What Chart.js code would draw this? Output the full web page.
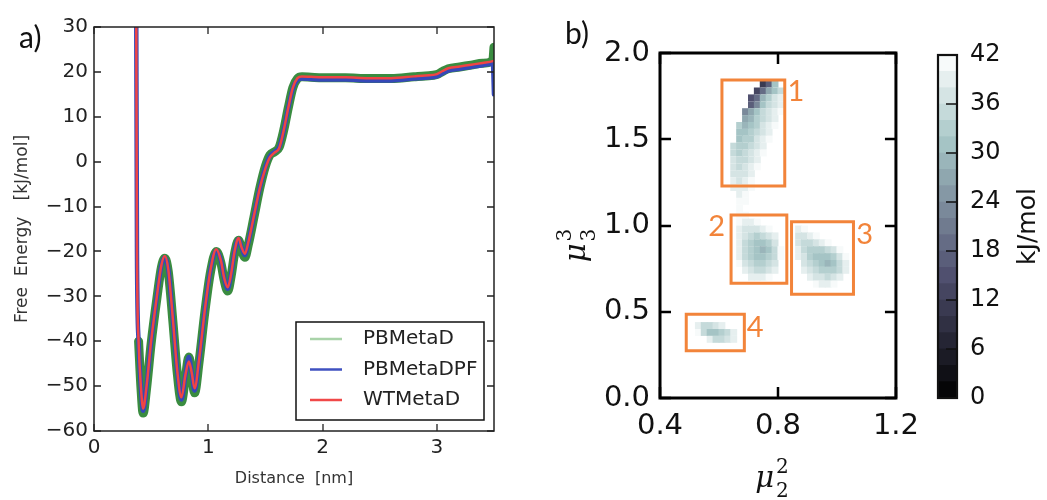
<!DOCTYPE html>
<html>
<head>
<meta charset="utf-8">
<script src="https://cdn.jsdelivr.net/npm/chart.js@4.4.1/dist/chart.umd.min.js"></script>
<style>
  body { margin: 0; background: #fff; }
  #fig { position: relative; width: 1047px; height: 500px; overflow: hidden; }
  canvas { position: absolute; top: 0; }
  .tag { position: absolute; font: 30px Lato, sans-serif; line-height: 1; color: #111; }
</style>
</head>
<body>
<div id="fig">
  <canvas id="profile" width="540" height="500" style="left:0"></canvas>
  <canvas id="fes" width="390" height="500" style="left:540px"></canvas>
  <canvas id="cbar" width="117" height="500" style="left:930px"></canvas>
  <div class="tag" style="left:19px;top:21px">a)</div>
  <div class="tag" style="left:565px;top:17px">b)</div>
</div>
<script>
// ---- panel a: free energy profile along the distance ----
const distance = [0.369, 0.376, 0.39, 0.41, 0.43, 0.46, 0.50, 0.55, 0.59, 0.62,
  0.65, 0.69, 0.73, 0.765, 0.80, 0.83, 0.855, 0.88, 0.92, 0.97,
  1.02, 1.07, 1.11, 1.14, 1.17, 1.20, 1.23, 1.265, 1.29, 1.32,
  1.35, 1.40, 1.45, 1.50, 1.54, 1.58, 1.62, 1.66, 1.70, 1.74,
  1.78, 1.82, 1.90, 2.00, 2.20, 2.40, 2.60, 2.80, 2.90, 3.00,
  3.05, 3.10, 3.20, 3.30, 3.40, 3.49, 3.50];

const pbMetaD = [null, null, -40, -50, -56, -50.5, -40.5, -30.5, -23.5, -21.5,
  -24.5, -35.5, -47.5, -53.5, -48, -43.5, -47.5, -51.5, -44.5, -33.5,
  -24.5, -20, -22.5, -26.5, -28.8, -25.5, -20.5, -17.5, -19.5, -21.3,
  -18.5, -12.3, -6, -1, 1.5, 2.2, 3.2, 7, 12, 16.5,
  18.5, 18.9, 18.8, 18.7, 18.7, 18.5, 18.5, 18.9, 19.1, 19.4,
  20.1, 20.7, 21.1, 21.5, 21.9, 22.6, 25.5];

const pbMetaDPF = [40, -20, -40, -50, -55.5, -50, -40, -30, -23, -21.3,
  -24, -35, -47, -53, -47.5, -43.5, -47, -51, -44, -33,
  -24, -19.8, -22, -26, -28.3, -25, -20, -17.2, -19, -20.8,
  -18, -12, -6, -1.2, 1.3, 2.2, 3.2, 7, 12, 16.3,
  18.2, 18.5, 18.4, 18.3, 18.3, 18.1, 18.1, 18.5, 18.7, 19.0,
  19.7, 20.3, 20.7, 21.1, 21.5, 21.8, 15];

const wtMetaD = [40, -20, -40, -50, -55, -50, -40, -30, -23, -21,
  -24, -35, -47, -52.5, -47.5, -44.5, -47, -50.5, -44, -33,
  -24, -19.5, -22, -26, -28, -25, -20, -17, -19, -20.5,
  -18, -12, -6, -1.5, 1, 2, 3, 7, 12, 16.5,
  18.6, 19, 18.9, 18.8, 18.8, 18.6, 18.6, 19.0, 19.2, 19.5,
  20.2, 20.8, 21.2, 21.6, 22.0, 22.4, 22.5];

const distanceTicks = [0, 1, 2, 3];
const energyTicks = [-60, -50, -40, -30, -20, -10, 0, 10, 20, 30];

// ---- panel b: free energy surface in (mu2^2, mu3^3) ----
// one string per row of cells, top row first; each char is a 2 kJ/mol level, '.' = no sample
const levelCodes = '0123456789abcdefghijk';
const mu2First = 0.51, mu2Step = 0.02;
const mu3Top = 1.82, mu3Step = 0.04;
const energyRows = [
  '............58f.............',
  '...........69dfh............',
  '..........79egij............',
  '..........8bfhij............',
  '.........bdfhijk............',
  '.........deghij.............',
  '........gefgijk.............',
  '........ffghij..............',
  '........fggijk..............',
  '.......hgghij...............',
  '.......hghijk...............',
  '.......ihhij................',
  '.......ihijk................',
  '.......iiij.................',
  '.......jijk.................',
  '.......jjjk.................',
  '........jk..................',
  '........kk..................',
  '........k...................',
  '........kk..................',
  '........kjjk................',
  '........jiiijk....jk........',
  '........jihghij...iijk......',
  '........jhgffgi...ihhijk....',
  '........jhgfefhk..jhggghik..',
  '........jhgffghk..jigfffgik.',
  '........kihgghi....ihgfefhj.',
  '.........jihhij....jihggghj.',
  '..........jjjk......jiihij..',
  '.....................kjjk...',
  '............................',
  '............................',
  '............................',
  '............................',
  '............................',
  '.jhhij......................',
  '.khffghj....................',
  '...jhhij....................',
  '............................'
];
const mu2Ticks = [0.4, 0.8, 1.2];
const mu3Ticks = [0, 0.5, 1.0, 1.5, 2.0];

// basins: [mu2 min, mu2 max, mu3 min, mu3 max]
const basinBoxes = [
  [0.610, 0.823, 1.229, 1.843],
  [0.641, 0.830, 0.665, 1.061],
  [0.846, 1.056, 0.601, 1.022],
  [0.489, 0.686, 0.274, 0.485]
];
const basinNames = ['1', '2', '3', '4'];
const basinNameAt = [[0.861, 1.776], [0.592, 0.993], [1.094, 0.945], [0.723, 0.409]];

const cbarTicks = [0, 6, 12, 18, 24, 30, 36, 42];
const cbarMax = 42;

Chart.defaults.font.family = '"DejaVu Sans", sans-serif';

// matplotlib "bone" colormap
function bone(t) {
  const seg = pts => {
    for (let k = 1; k < pts.length; k++) {
      if (t <= pts[k][0]) {
        const [x0, y0] = pts[k - 1], [x1, y1] = pts[k];
        return y0 + (y1 - y0) * (t - x0) / (x1 - x0);
      }
    }
    return 1;
  };
  const r = seg([[0, 0], [0.746032, 0.652778], [1, 1]]);
  const g = seg([[0, 0], [0.365079, 0.319444], [0.746032, 0.777778], [1, 1]]);
  const b = seg([[0, 0], [0.365079, 0.444444], [1, 1]]);
  return `rgb(${Math.round(r * 255)},${Math.round(g * 255)},${Math.round(b * 255)})`;
}

const minus = v => (v < 0 ? '\u2212' + Math.abs(v) : String(v));
const setTicks = list => scale => { scale.ticks = list.map(v => ({ value: v })); };

// closed frame with inward ticks on all four sides
const frameTicks = {
  id: 'frameTicks',
  afterDraw(chart, args, o) {
    const { ctx, chartArea: a, scales: { x, y } } = chart;
    ctx.save();
    ctx.strokeStyle = o.color;
    ctx.lineWidth = o.tickWidth;
    ctx.beginPath();
    x.ticks.forEach(t => {
      const p = Math.round(x.getPixelForValue(t.value));
      ctx.moveTo(p, a.bottom); ctx.lineTo(p, a.bottom - o.len);
      ctx.moveTo(p, a.top); ctx.lineTo(p, a.top + o.len);
    });
    y.ticks.forEach(t => {
      const p = Math.round(y.getPixelForValue(t.value));
      ctx.moveTo(a.left, p); ctx.lineTo(a.left + o.len, p);
      ctx.moveTo(a.right, p); ctx.lineTo(a.right - o.len, p);
    });
    ctx.stroke();
    ctx.lineWidth = o.width;
    ctx.strokeRect(a.left, a.top, a.right - a.left, a.bottom - a.top);
    ctx.restore();
  }
};

// legend in a framed box at the lower right of the plot
const boxedLegend = {
  id: 'boxedLegend',
  afterDraw(chart) {
    const { ctx, chartArea: a } = chart;
    const w = 188, h = 98;
    const x0 = a.right - 10 - w, y0 = a.bottom - 11 - h;
    ctx.save();
    ctx.fillStyle = '#fff';
    ctx.fillRect(x0, y0, w, h);
    ctx.strokeStyle = '#111';
    ctx.lineWidth = 1.5;
    ctx.strokeRect(x0, y0, w, h);
    ctx.font = '20px "DejaVu Sans"';
    ctx.textBaseline = 'middle';
    chart.data.datasets.forEach((ds, k) => {
      const yy = y0 + 17 + k * 30.5;
      ctx.strokeStyle = ds.legendColor;
      ctx.lineWidth = 2.5;
      ctx.beginPath();
      ctx.moveTo(x0 + 14, yy);
      ctx.lineTo(x0 + 46, yy);
      ctx.stroke();
      ctx.fillStyle = '#222';
      ctx.fillText(ds.label, x0 + 67, yy);
    });
    ctx.restore();
  }
};

const pts = ys => distance.map((x, i) => ({ x, y: ys[i] }));

new Chart(document.getElementById('profile'), {
  type: 'line',
  data: {
    datasets: [
      { label: 'PBMetaD', data: pts(pbMetaD), borderColor: '#3a8c40', legendColor: '#a9d3a9', borderWidth: 9, order: 3 },
      { label: 'PBMetaDPF', data: pts(pbMetaDPF), borderColor: '#3548b8', legendColor: '#3f51c0', borderWidth: 4.5, order: 2 },
      { label: 'WTMetaD', data: pts(wtMetaD), borderColor: '#f04444', legendColor: '#f04848', borderWidth: 2.5, order: 1 }
    ]
  },
  options: {
    responsive: false,
    animation: false,
    events: [],
    layout: { padding: { left: 0, top: 27, right: 46, bottom: 0 } },
    elements: {
      point: { radius: 0 },
      line: { cubicInterpolationMode: 'monotone', borderJoinStyle: 'round', borderCapStyle: 'round' }
    },
    datasets: { line: { clip: 0, spanGaps: false } },
    scales: {
      x: {
        type: 'linear', min: 0, max: 3.5,
        afterBuildTicks: setTicks(distanceTicks),
        afterFit: s => { s.height = 69; },
        grid: { display: false, drawTicks: false },
        border: { display: false },
        ticks: { padding: 5, color: '#222', font: { size: 20 } },
        title: { display: true, text: 'Distance  [nm]', color: '#333', font: { size: 16 }, padding: { top: 0, bottom: 12 } }
      },
      y: {
        min: -60, max: 30,
        afterBuildTicks: setTicks(energyTicks),
        afterFit: s => { s.width = 94; },
        grid: { display: false, drawTicks: false },
        border: { display: false },
        ticks: { padding: 6, color: '#222', font: { size: 20 }, callback: v => minus(v) },
        title: { display: true, text: 'Free  Energy   [kJ/mol]', color: '#333', font: { size: 17 }, padding: { top: 12, bottom: 0 } }
      }
    },
    plugins: {
      legend: { display: false },
      tooltip: { enabled: false },
      frameTicks: { color: '#222', width: 1.5, tickWidth: 1.3, len: 7 }
    }
  },
  plugins: [frameTicks, boxedLegend]
});

// ---- heat map cells ----
const cells = [];
energyRows.forEach((row, j) => {
  [...row].forEach((c, i) => {
    if (c === '.') return;
    cells.push({ x: mu2First + i * mu2Step, y: mu3Top - j * mu3Step, e: levelCodes.indexOf(c) * 2 });
  });
});

const cellRadius = ctx => {
  const y = ctx.chart.scales.y;
  return Math.abs(y.getPixelForValue(0) - y.getPixelForValue(mu3Step)) / 2 / Math.SQRT1_2;
};

const boxColor = '#f2843a';

// mu axis labels with stacked upper and lower indices
function drawMu(ctx, cx, cy, sup, sub) {
  ctx.font = 'italic 29px "DejaVu Serif"';
  const wMu = ctx.measureText('\u03bc').width;
  ctx.font = '20px "DejaVu Serif"';
  const wS = ctx.measureText(sup).width;
  const x0 = cx - (wMu + 2 + wS) / 2;
  ctx.textAlign = 'left';
  ctx.textBaseline = 'alphabetic';
  ctx.font = 'italic 29px "DejaVu Serif"';
  ctx.fillText('\u03bc', x0, cy);
  ctx.font = '20px "DejaVu Serif"';
  ctx.fillText(sup, x0 + wMu + 2, cy - 14);
  ctx.fillText(sub, x0 + wMu + 2, cy + 10);
}

const fesText = {
  id: 'fesText',
  afterDraw(chart) {
    const { ctx, chartArea: a, scales: { x, y } } = chart;
    ctx.save();
    ctx.fillStyle = boxColor;
    ctx.font = '29px Lato';
    ctx.textAlign = 'center';
    ctx.textBaseline = 'middle';
    basinNames.forEach((n, k) => {
      ctx.fillText(n, x.getPixelForValue(basinNameAt[k][0]), y.getPixelForValue(basinNameAt[k][1]));
    });
    ctx.fillStyle = '#111';
    drawMu(ctx, (a.left + a.right) / 2 - 6, 487, '2', '2');
    ctx.translate(45, (a.top + a.bottom) / 2 + 20);
    ctx.rotate(-Math.PI / 2);
    drawMu(ctx, 0, 0, '3', '3');
    ctx.restore();
  }
};

new Chart(document.getElementById('fes'), {
  type: 'scatter',
  data: {
    datasets: [
      ...basinBoxes.map(b => ({
        data: [{ x: b[0], y: b[2] }, { x: b[1], y: b[2] }, { x: b[1], y: b[3] }, { x: b[0], y: b[3] }, { x: b[0], y: b[2] }],
        showLine: true, borderColor: boxColor, borderWidth: 3, pointRadius: 0,
        borderJoinStyle: 'miter', borderCapStyle: 'square', clip: false, order: 1
      })),
      {
        data: cells,
        backgroundColor: cells.map(c => bone((c.e + 1) / cbarMax)),
        pointStyle: 'rect', pointRadius: cellRadius, borderWidth: 0, order: 2
      }
    ]
  },
  options: {
    responsive: false,
    animation: false,
    events: [],
    layout: { padding: { left: 0, top: 53, right: 7, bottom: 0 } },
    scales: {
      x: {
        type: 'linear', min: 0.4, max: 1.2,
        afterBuildTicks: setTicks(mu2Ticks),
        afterFit: s => { s.height = 102; },
        grid: { display: false, drawTicks: false },
        border: { display: false },
        ticks: { padding: 11, color: '#111', font: { size: 29 }, callback: v => v.toFixed(1) }
      },
      y: {
        min: 0, max: 2,
        afterBuildTicks: setTicks(mu3Ticks),
        afterFit: s => { s.width = 120; },
        grid: { display: false, drawTicks: false },
        border: { display: false },
        ticks: { padding: 10, color: '#111', font: { size: 29 }, callback: v => v.toFixed(1) }
      }
    },
    plugins: {
      legend: { display: false },
      tooltip: { enabled: false },
      frameTicks: { color: '#000', width: 3, tickWidth: 2.5, len: 11 }
    }
  },
  plugins: [frameTicks, fesText]
});

// ---- colour bar ----
const cbarDecor = {
  id: 'cbarDecor',
  afterDraw(chart) {
    const { ctx, chartArea: a, scales: { y } } = chart;
    ctx.save();
    ctx.strokeStyle = '#111';
    ctx.lineWidth = 1.6;
    ctx.beginPath();
    cbarTicks.forEach(v => {
      const p = Math.round(y.getPixelForValue(v));
      ctx.moveTo(a.right, p);
      ctx.lineTo(a.right - 11, p);
    });
    ctx.stroke();
    ctx.lineWidth = 2.2;
    ctx.strokeRect(a.left, a.top, a.right - a.left, a.bottom - a.top);
    ctx.fillStyle = '#111';
    ctx.font = '25px "DejaVu Sans"';
    ctx.textAlign = 'center';
    ctx.textBaseline = 'middle';
    ctx.translate(98, (a.top + a.bottom) / 2);
    ctx.rotate(-Math.PI / 2);
    ctx.fillText('kJ/mol', 0, 0);
    ctx.restore();
  }
};

new Chart(document.getElementById('cbar'), {
  type: 'bar',
  data: {
    labels: [''],
    datasets: [...levelCodes].map((c, k) => ({
      data: [2],
      backgroundColor: bone((2 * k + 1) / cbarMax),
      borderWidth: 0,
      barPercentage: 1,
      categoryPercentage: 1
    }))
  },
  options: {
    responsive: false,
    animation: false,
    events: [],
    layout: { padding: { left: 8, top: 55, right: 0, bottom: 102 } },
    scales: {
      x: { display: false, stacked: true },
      y: {
        position: 'right', stacked: true, min: 0, max: cbarMax,
        afterBuildTicks: setTicks(cbarTicks),
        afterFit: s => { s.width = 90; },
        grid: { display: false, drawTicks: false },
        border: { display: false },
        ticks: { padding: 13, color: '#111', font: { size: 24 } }
      }
    },
    plugins: { legend: { display: false }, tooltip: { enabled: false } }
  },
  plugins: [cbarDecor]
});
</script>
</body>
</html>
